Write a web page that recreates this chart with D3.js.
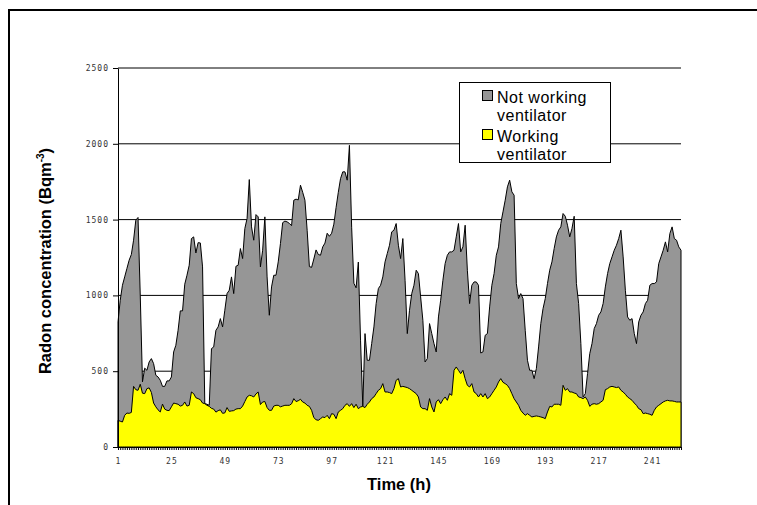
<!DOCTYPE html>
<html>
<head>
<meta charset="utf-8">
<script src="https://cdn.jsdelivr.net/npm/d3@7"></script>
<style>
  html, body { margin: 0; padding: 0; background: #fff; }
  svg { display: block; }
</style>
</head>
<body>
<svg id="chart" width="757" height="505"></svg>
<script>
// ---- data ----
const notWorking = [
  825, 968, 1067, 1122, 1177, 1232, 1270, 1364, 1496, 1514,
  1000, 430, 520, 506, 561, 583, 550, 473, 462, 440,
  400, 400, 436, 436, 462, 627, 671, 770, 898, 898,
  1074, 1133, 1199, 1375, 1386, 1280, 1348, 1346, 1188, 286,
  282, 275, 649, 660, 770, 792, 847, 792, 902, 1012,
  1034, 1122, 1012, 1192, 1199, 1309, 1243, 1441, 1507, 1764,
  1452, 1364, 1533, 1518, 1188, 1298, 1518, 1122, 869, 1056,
  1133, 1133, 1221, 1342, 1480, 1490, 1485, 1475, 1460, 1628,
  1635, 1630, 1727, 1680, 1628, 1430, 1190, 1185, 1240, 1300,
  1270, 1265, 1320, 1345, 1410, 1390, 1410, 1470, 1580, 1680,
  1770, 1815, 1815, 1760, 1990, 1450, 1080, 1050, 1220, 700,
  270, 748, 572, 572, 682, 792, 946, 1045, 1067, 1122,
  1221, 1276, 1331, 1419, 1430, 1474, 1331, 1243, 1375, 1100,
  748, 902, 1012, 1067, 1166, 1144, 990, 836, 561, 583,
  814, 748, 682, 627, 858, 968, 1100, 1210, 1265, 1287,
  1287, 1298, 1386, 1474, 1287, 1320, 1463, 1166, 946, 1067,
  1089, 1089, 1067, 620, 627, 737, 748, 924, 1067, 1144,
  1265, 1320, 1474, 1551, 1628, 1716, 1760, 1683, 1661, 1078,
  979, 1012, 979, 770, 572, 506, 506, 451, 517, 660,
  814, 913, 979, 1078, 1166, 1221, 1309, 1386, 1430, 1452,
  1540, 1522, 1463, 1386, 1441, 1522, 1078, 946, 682, 330,
  352, 484, 616, 682, 781, 814, 869, 891, 946, 1056,
  1144, 1210, 1254, 1298, 1331, 1375, 1430, 1254, 1034, 858,
  836, 847, 748, 682, 825, 869, 891, 946, 968, 1067,
  1078, 1078, 1089, 1210, 1254, 1298, 1353, 1287, 1408, 1452,
  1375, 1364, 1320, 1298
];
const working = [
  176, 170, 165, 209, 224, 222, 228, 400, 378, 374,
  414, 355, 352, 385, 390, 360, 290, 265, 245, 231,
  283, 250, 242, 240, 265, 290, 286, 282, 270, 275,
  297, 270, 275, 363, 352, 325, 319, 312, 290, 286,
  275, 268, 255, 250, 230, 240, 245, 222, 225, 260,
  235, 238, 240, 250, 253, 253, 270, 300, 330, 341,
  338, 330, 350, 363, 280, 297, 300, 260, 242, 242,
  270, 275, 275, 265, 270, 275, 275, 275, 285, 319,
  300, 305, 315, 297, 290, 275, 268, 242, 194, 180,
  176, 187, 198, 194, 209, 187, 220, 216, 187, 231,
  242, 253, 275, 286, 268, 286, 260, 282, 253, 264,
  268, 260, 282, 297, 319, 330, 352, 374, 385, 418,
  363, 363, 359, 352, 385, 440, 451, 396, 400, 396,
  392, 385, 374, 363, 352, 330, 264, 253, 253, 242,
  319, 264, 231, 297, 312, 286, 312, 330, 308, 352,
  341, 506, 528, 506, 484, 506, 451, 407, 396, 418,
  363, 352, 330, 352, 330, 352, 319, 330, 352, 374,
  396, 429, 451, 427, 418, 407, 385, 352, 319, 297,
  275, 242, 224, 209, 220, 209, 198, 202, 205, 202,
  198, 194, 187, 231, 268, 264, 282, 282, 282, 275,
  407, 374, 385, 363, 363, 356, 352, 330, 326, 319,
  330, 308, 268, 282, 286, 282, 286, 297, 308, 378,
  385, 396, 400, 396, 392, 396, 374, 363, 348, 330,
  319, 308, 290, 275, 253, 246, 220, 224, 220, 216,
  209, 242, 264, 275, 286, 297, 304, 308, 304, 304,
  301, 297, 297, 297
];
const hours = d3.range(1, notWorking.length + 1);
const xTickLabels = [1, 25, 49, 73, 97, 121, 145, 169, 193, 217, 241];
const yTicks = [0, 500, 1000, 1500, 2000, 2500];
const seriesNames = ["Not working ventilator", "Working ventilator"];

// ---- drawing ----
const svg = d3.select("#chart");
svg.append("rect").attr("width", 757).attr("height", 505).attr("fill", "#fff");

// outer frame (top and left edges visible)
svg.append("line").attr("x1", 8).attr("x2", 757).attr("y1", 10).attr("y2", 10)
  .attr("stroke", "#000").attr("stroke-width", 2);
svg.append("line").attr("x1", 9).attr("x2", 9).attr("y1", 9).attr("y2", 505)
  .attr("stroke", "#000").attr("stroke-width", 2);

const x = d3.scaleLinear().domain([1, hours.length]).range([118, 681]);
const y = d3.scaleLinear().domain([0, 2500]).range([447, 68]);

// gridlines
svg.append("g").selectAll("line").data(yTicks.filter(d => d > 0)).join("line")
  .attr("x1", x(1)).attr("x2", x(hours.length))
  .attr("y1", d => y(d)).attr("y2", d => y(d))
  .attr("stroke", "#000").attr("stroke-width", 1);

const area = d3.area()
  .x((d, i) => x(hours[i]))
  .y0(y(0))
  .y1(d => y(d));

svg.append("path").datum(notWorking)
  .attr("d", d => area(d) + "Z")
  .attr("fill", "#969696").attr("stroke", "#000").attr("stroke-width", 1);
svg.append("path").datum(working)
  .attr("d", d => area(d) + "Z")
  .attr("fill", "#ffff00").attr("stroke", "#000").attr("stroke-width", 1);

// axes
const tickFont = "'DejaVu Sans Mono', monospace";
const yAxis = svg.append("g").attr("transform", `translate(${x(1)},0)`)
  .call(d3.axisLeft(y).tickValues(yTicks).tickSize(5).tickPadding(4).tickSizeOuter(0)
    .tickFormat(d3.format("d")));
yAxis.select(".domain").attr("stroke", "#000");
yAxis.selectAll("text").attr("font-family", tickFont).attr("font-size", 8)
  .attr("letter-spacing", "1px").attr("fill", "#333");

const labelSet = new Set(xTickLabels);
const xAxis = svg.append("g").attr("transform", `translate(0,${y(0)})`)
  .call(d3.axisBottom(x).tickValues(hours).tickSize(3).tickPadding(8).tickSizeOuter(0)
    .tickFormat(d => labelSet.has(d) ? String(d) : ""));
xAxis.select(".domain").attr("stroke", "#000");
xAxis.selectAll(".tick line").attr("stroke", "#000");
xAxis.selectAll("text").attr("font-family", tickFont).attr("font-size", 8)
  .attr("letter-spacing", "1px").attr("fill", "#333");

// axis titles
svg.append("text").attr("x", 399).attr("y", 490).attr("text-anchor", "middle")
  .attr("font-family", "'Liberation Sans', Arial, sans-serif").attr("font-weight", "bold")
  .attr("font-size", 16.5).text("Time (h)");

const yt = svg.append("text").attr("transform", "translate(51,261) rotate(-90)")
  .attr("text-anchor", "middle")
  .attr("font-family", "'Liberation Sans', Arial, sans-serif").attr("font-weight", "bold")
  .attr("font-size", 16.5);
yt.append("tspan").text("Radon concentration (Bqm");
yt.append("tspan").attr("font-size", 10).attr("dy", -7).text("-3");
yt.append("tspan").attr("dy", 7).text(")");

// legend
const lg = svg.append("g");
lg.append("rect").attr("x", 459.5).attr("y", 82.5).attr("width", 151).attr("height", 80)
  .attr("fill", "#fff").attr("stroke", "#000").attr("stroke-width", 1);
const legendItems = [
  { name: seriesNames[0], lines: ["Not working", "ventilator"], color: "#969696", sq: 90.5, base: [103, 121] },
  { name: seriesNames[1], lines: ["Working", "ventilator"], color: "#ffff00", sq: 129.5, base: [142, 160] }
];
legendItems.forEach(it => {
  lg.append("rect").attr("x", 482.5).attr("y", it.sq).attr("width", 10).attr("height", 10)
    .attr("fill", it.color).attr("stroke", "#000").attr("stroke-width", 1);
  it.lines.forEach((ln, i) => {
    lg.append("text").attr("x", 497).attr("y", it.base[i])
      .attr("font-family", "'Liberation Sans', Arial, sans-serif").attr("font-size", 16)
      .attr("letter-spacing", "0.5px")
      .text(ln);
  });
});
</script>
</body>
</html>
